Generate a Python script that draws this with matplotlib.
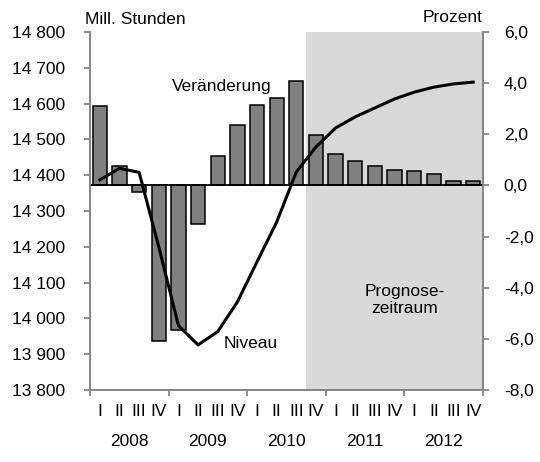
import matplotlib.pyplot as plt
import matplotlib.transforms as mtransforms
import numpy as np

plt.rcParams['font.family'] = ['Liberation Sans', 'DejaVu Sans']

years = ['2008', '2009', '2010', '2011', '2012']
quarters = ['I', 'II', 'III', 'IV']

# Veraenderung in Prozent (Balken, rechte Achse)
veraenderung = [3.1, 0.77, -0.25, -6.1, -5.65, -1.5, 1.15, 2.35, 3.14, 3.43,
                4.07, 1.97, 1.22, 0.97, 0.76, 0.6, 0.56, 0.45, 0.19, 0.17]

# Niveau in Mill. Stunden (Linie, linke Achse)
niveau = [14387, 14419, 14408, 14200, 13980, 13926, 13963, 14046, 14158, 14269,
          14409, 14479, 14532, 14563, 14588, 14613, 14632, 14646, 14655, 14660]

prognose_start = 11  # ab 2010 IV

x = np.arange(len(niveau))
grey = '#868686'

fig = plt.figure(figsize=(5.4, 4.62), dpi=100)
ax = fig.add_axes([90/540, 1-390/462, (483-90)/540, (390-32)/462])
ax2 = ax.twinx()

ax2.axvspan(prognose_start - 0.5, len(x) - 0.5, color='#d9d9d9', lw=0, zorder=0)
ax2.bar(x, veraenderung, width=0.73, color='#808080', edgecolor='black', linewidth=1.1, zorder=2)
ax2.axhline(0, color='black', lw=1.3, zorder=3)

ax.plot(x, niveau, color='black', lw=2.2, zorder=4)
ax.set_zorder(ax2.get_zorder() + 1)
ax.patch.set_visible(False)

ax.set_xlim(-0.5, len(x) - 0.5)
ax.set_ylim(13800, 14800)
ax2.set_ylim(-8, 6)

ax.set_yticks(range(13800, 14801, 100))
ax.set_yticklabels([f'{v // 1000} {v % 1000:03d}' for v in range(13800, 14801, 100)])
ax2.set_yticks(range(-8, 7, 2))
ax2.set_yticklabels([f'{v:.1f}'.replace('.', ',') for v in range(-8, 7, 2)])

ax.set_xticks(np.arange(-0.5, len(x), 4))
ax.set_xticklabels([])

for a in (ax, ax2):
    a.spines['top'].set_visible(False)
    for s in ('left', 'right', 'bottom'):
        a.spines[s].set_color(grey)
        a.spines[s].set_linewidth(1.3)
    a.tick_params(colors=grey, labelcolor='black', labelsize=12.5, length=4, width=1.3)
ax.tick_params(axis='y', pad=14)
ax2.tick_params(axis='y', pad=11)
ax2.tick_params(axis='x', length=0)

# Quartals- und Jahresbeschriftung
trans = mtransforms.blended_transform_factory(ax.transData, fig.transFigure)
for i in x:
    ax.text(i, 1 - 411/462, quarters[i % 4], transform=trans, ha='center', va='center', fontsize=12.5)
for j, yr in enumerate(years):
    ax.text(j * 4 + 1.5, 1 - 441/462, yr, transform=trans, ha='center', va='center', fontsize=12.5)

fig.text(85/540, 1 - 19/462, 'Mill. Stunden', ha='left', va='center', fontsize=12.5)
fig.text(482/540, 1 - 18/462, 'Prozent', ha='right', va='center', fontsize=12.5)
fig.text(222/540, 1 - 87/462, 'Veränderung', ha='center', va='center', fontsize=12.5)
fig.text(251/540, 1 - 343/462, 'Niveau', ha='center', va='center', fontsize=12.5)
fig.text(405/540, 1 - 300/462, 'Prognose-\nzeitraum', ha='center', va='center', fontsize=12.5, linespacing=1.2)

plt.savefig('out.png', dpi=100)
